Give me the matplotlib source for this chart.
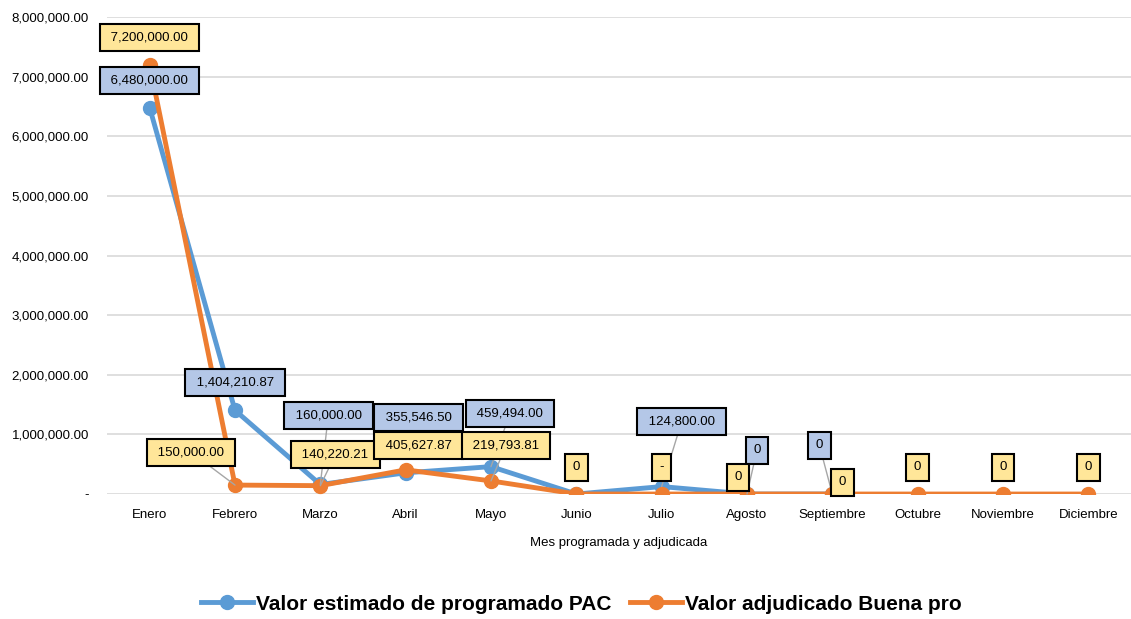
import numpy as np
import matplotlib.pyplot as plt
from matplotlib.ticker import FuncFormatter

plt.rcParams['font.family'] = ['Liberation Sans', 'DejaVu Sans']

# =========================================================
# Data
# =========================================================
meses = ["Enero", "Febrero", "Marzo", "Abril", "Mayo", "Junio", "Julio",
         "Agosto", "Septiembre", "Octubre", "Noviembre", "Diciembre"]

pac = [6480000.00, 1404210.87, 160000.00, 355546.50, 459494.00, 0, 124800.00,
       0, 0, np.nan, np.nan, np.nan]
buena_pro = [7200000.00, 150000.00, 140220.21, 405627.87, 219793.81, 0, 0,
             0, 0, 0, 0, 0]

pac_labels = ["6,480,000.00", "1,404,210.87", "160,000.00", "355,546.50",
              "459,494.00", None, "124,800.00", "0", "0", None, None, None]
bp_labels = ["7,200,000.00", "150,000.00", "140,220.21", "405,627.87",
             "219,793.81", "0", "-", "0", "0", "0", "0", "0"]

# label offsets (pixels) and whether a leader line is drawn
pac_off = [(0, 27), (0, 28), (8, 69), (13, 55), (19, 53), None, (20, 65),
           (10, 44), (-13, 49), None, None, None]
pac_lead = [False, False, True, False, True, False, True, True, True, False, False, False]
bp_off = [(0, 27), (-44, 33), (15, 31), (13, 24), (15, 35), (0, 27), (0, 27),
          (-9, 17), (10, 12), (0, 27), (0, 27), (0, 27)]
bp_lead = [False, True, True, False, True, False, False, False, False, False, False, False]

BLUE = "#5B9BD5"
ORANGE = "#ED7D31"
BLUE_BOX = "#B4C7E7"
YELLOW_BOX = "#FFE699"

# =========================================================
# Plot
# =========================================================
fig = plt.figure(figsize=(11.31, 6.19), dpi=100)
ax = fig.add_axes([0.0946, 0.2019, 0.9054, 0.7706])

x = np.arange(len(meses))
ax.plot(x, pac, color=BLUE, lw=3.5, marker='o', ms=10, zorder=3,
        label="Valor estimado de programado PAC")
ax.plot(x, buena_pro, color=ORANGE, lw=3.5, marker='o', ms=10, zorder=4,
        label="Valor adjudicado Buena pro")


def label(xi, yi, txt, off, lead, fc, z):
    arrow = None
    if lead:
        arrow = dict(arrowstyle='-', color='#A6A6A6', lw=1.0,
                     shrinkA=0, shrinkB=0)
    if len(txt) > 1:
        txt = " " + txt + " "
    ax.annotate(txt, (xi, yi), xytext=off, textcoords='offset pixels',
                ha='center', va='center', fontsize=9.5, zorder=z,
                bbox=dict(boxstyle='square,pad=0.57', fc=fc, ec='black', lw=1.5),
                arrowprops=arrow)


for i in range(len(meses)):
    if pac_labels[i] is not None:
        label(x[i], pac[i], pac_labels[i], pac_off[i], pac_lead[i], BLUE_BOX, 5)
for i in range(len(meses)):
    label(x[i], buena_pro[i], bp_labels[i], bp_off[i], bp_lead[i], YELLOW_BOX, 6)

ax.set_ylim(0, 8000000)
ax.set_xlim(-0.5, 11.5)
ax.set_yticks(np.arange(0, 8000001, 1000000))
ax.yaxis.set_major_formatter(FuncFormatter(
    lambda v, p: "-" if v == 0 else f"{v:,.2f}"))
ax.set_xticks(x)
ax.set_xticklabels(meses)
ax.tick_params(axis='both', length=0, labelsize=9.5)
ax.tick_params(axis='y', pad=13)
ax.tick_params(axis='x', pad=11)
ax.grid(axis='y', color='#D9D9D9', lw=1.2)
ax.set_axisbelow(True)
for s in ax.spines.values():
    s.set_visible(False)

ax.set_xlabel("Mes programada y adjudicada", fontsize=9.5, labelpad=11)

leg = fig.legend(loc='center', bbox_to_anchor=(0.514, 0.024), ncol=2,
                 frameon=False, handlelength=2.5, columnspacing=0.9,
                 handletextpad=0.15,
                 prop=dict(family=['Liberation Sans', 'DejaVu Sans'],
                           weight='bold', size=15))

fig.savefig("out.png", dpi=100)
